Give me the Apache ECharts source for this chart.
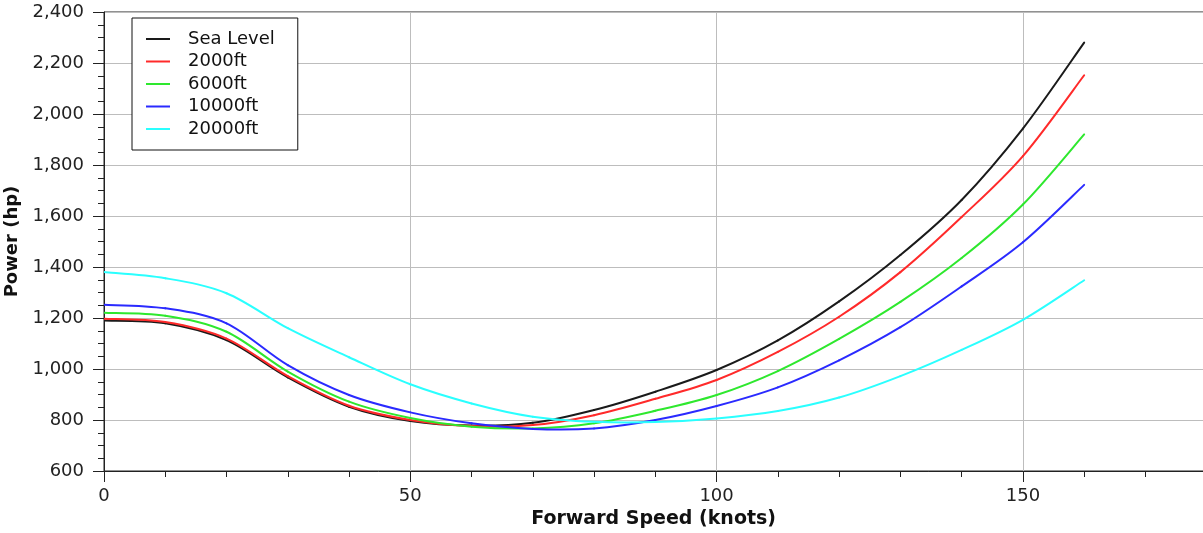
<!DOCTYPE html>
<html>
<head>
<meta charset="utf-8">
<title>Power Required vs Forward Speed</title>
<script src="https://cdn.jsdelivr.net/npm/echarts@6/dist/echarts.min.js"></script>
<style>
  html, body { margin: 0; padding: 0; background: #ffffff; }
  #chart { width: 1203px; height: 533px; }
</style>
</head>
<body>
<div id="chart"></div>
<script>
// Forward speed (knots) at which power is sampled
const speeds = [0, 10, 20, 30, 40, 50, 60, 70, 80, 90, 100, 110, 120, 130, 140, 150, 160];

// Power required (hp) per altitude
const seaLevel = [1190, 1179, 1113, 967, 852, 796, 778, 789, 839, 911, 996, 1112, 1265, 1447, 1663, 1943, 2280];
const alt2000  = [1197, 1184, 1119, 972, 856, 800, 776, 780, 819, 883, 957, 1067, 1205, 1380, 1596, 1835, 2152];
const alt6000  = [1221, 1209, 1146, 990, 872, 808, 774, 767, 787, 836, 898, 992, 1118, 1263, 1435, 1645, 1920];
const alt10000 = [1252, 1238, 1179, 1015, 898, 830, 787, 765, 767, 800, 855, 928, 1034, 1164, 1324, 1497, 1722];
const alt20000 = [1380, 1356, 1297, 1160, 1046, 940, 865, 813, 793, 792, 806, 835, 888, 972, 1075, 1193, 1348];

const seriesNames  = ['Sea Level', '2000ft', '6000ft', '10000ft', '20000ft'];
const seriesValues = [seaLevel, alt2000, alt6000, alt10000, alt20000];
const seriesColors = ['#1a1a1a', '#ff2a2a', '#2ee82e', '#2a2aff', '#2affff'];

const FONT = 'DejaVu Sans';
const INK = '#222222';
const GRID_LINE = '#bdbdbd';
const LINE_WIDTH = 2;

// Each data item draws the cubic segment to the next sample; the control
// points follow a Catmull-Rom spline through the projected samples.
function makeSegmentRenderer(values, color) {
  const last = speeds.length - 1;
  return function (params, api) {
    const j = params.dataIndex;
    if (j >= last) return null;
    const pt = function (k) {
      const idx = Math.max(0, Math.min(last, k));
      return api.coord([speeds[idx], values[idx]]);
    };
    const p0 = pt(j - 1), p1 = pt(j), p2 = pt(j + 1), p3 = pt(j + 2);
    return {
      type: 'bezierCurve',
      shape: {
        x1: p1[0], y1: p1[1],
        cpx1: p1[0] + (p2[0] - p0[0]) / 6, cpy1: p1[1] + (p2[1] - p0[1]) / 6,
        cpx2: p2[0] - (p3[0] - p1[0]) / 6, cpy2: p2[1] - (p3[1] - p1[1]) / 6,
        x2: p2[0], y2: p2[1]
      },
      style: { stroke: color, fill: 'none', lineWidth: LINE_WIDTH, lineCap: 'round' }
    };
  };
}

const chart = echarts.init(document.getElementById('chart'), null, { renderer: 'canvas' });

chart.setOption({
  animation: false,
  backgroundColor: '#ffffff',
  textStyle: { fontFamily: FONT },
  grid: {
    left: 104,
    top: 12,
    width: 1225.2,
    height: 459,
    outerBoundsMode: 'none',
    containLabel: false,
    show: true,
    borderColor: INK,
    borderWidth: 1,
    backgroundColor: 'transparent'
  },
  legend: {
    orient: 'vertical',
    left: 132,
    top: 18,
    padding: [11, 23, 11, 14],
    backgroundColor: '#ffffff',
    borderColor: '#111111',
    borderWidth: 1,
    borderRadius: 0,
    icon: 'rect',
    itemWidth: 24,
    itemHeight: 2,
    itemGap: 2.5,
    textStyle: {
      fontFamily: FONT,
      fontSize: 18,
      color: '#111111',
      lineHeight: 20,
      padding: [0, 0, 0, 13]
    },
    data: seriesNames
  },
  xAxis: {
    type: 'value',
    min: 0,
    max: 200,
    interval: 50,
    name: 'Forward Speed (knots)',
    nameLocation: 'middle',
    nameGap: 39,
    nameTextStyle: {
      fontFamily: FONT,
      fontSize: 19,
      fontWeight: 'bold',
      color: '#111111',
      padding: [0, 126, 0, 0]
    },
    axisLine: { show: true, onZero: false, lineStyle: { color: INK, width: 1 } },
    axisTick: { show: true, length: 11, lineStyle: { color: INK, width: 1 } },
    minorTick: { show: true, splitNumber: 5, length: 6, lineStyle: { color: INK, width: 1 } },
    splitLine: { show: true, lineStyle: { color: GRID_LINE, width: 1 } },
    axisLabel: {
      fontFamily: FONT,
      fontSize: 18,
      color: INK,
      margin: 16,
      showMaxLabel: false
    }
  },
  yAxis: {
    type: 'value',
    min: 600,
    max: 2400,
    interval: 200,
    name: 'Power (hp)',
    nameLocation: 'middle',
    nameGap: 75,
    nameTextStyle: {
      fontFamily: FONT,
      fontSize: 18,
      fontWeight: 'bold',
      color: '#111111'
    },
    axisLine: { show: true, onZero: false, lineStyle: { color: INK, width: 1 } },
    axisTick: { show: true, length: 11, lineStyle: { color: INK, width: 1 } },
    minorTick: { show: true, splitNumber: 4, length: 6, lineStyle: { color: INK, width: 1 } },
    splitLine: { show: true, lineStyle: { color: GRID_LINE, width: 1 } },
    axisLabel: {
      fontFamily: FONT,
      fontSize: 18,
      color: INK,
      margin: 20,
      formatter: function (v) { return v.toLocaleString('en-US'); }
    }
  },
  series: seriesNames.map(function (name, i) {
    return {
      name: name,
      type: 'custom',
      coordinateSystem: 'cartesian2d',
      clip: true,
      itemStyle: { color: seriesColors[i] },
      encode: { x: 0, y: 1 },
      renderItem: makeSegmentRenderer(seriesValues[i], seriesColors[i]),
      data: speeds.map(function (s, j) { return [s, seriesValues[i][j]]; })
    };
  })
});
</script>
</body>
</html>
